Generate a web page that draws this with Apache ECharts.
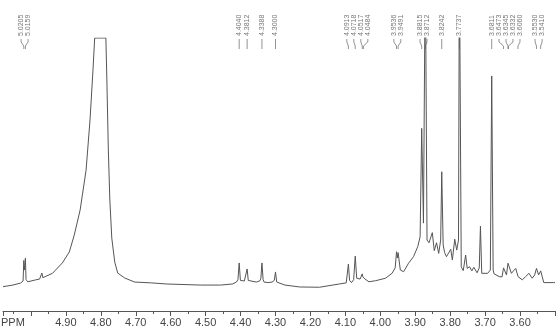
<!DOCTYPE html>
<html>
<head>
    <meta charset="UTF-8">
    <title>1H NMR</title>
    <script src="https://cdn.jsdelivr.net/npm/echarts/dist/echarts.min.js"></script>
    <style>
        html, body { margin: 0; padding: 0; background: #fff; }
        #chart { width: 558px; height: 331px; }
    </style>
</head>
<body>
    <div id="chart"></div>
    <script>
        // chemical shift (ppm) and intensity
        var shifts = [
            5.080, 5.052, 5.030, 5.0225, 5.0205, 5.0185, 5.0159, 5.0140, 5.0090, 4.9866,
            4.9752, 4.9710, 4.9687, 4.9660, 4.9620, 4.9384, 4.9101, 4.8903, 4.8761, 4.8592,
            4.8422, 4.8309, 4.8224, 4.8176, 4.7855, 4.7827, 4.7785, 4.7742, 4.7686, 4.7601,
            4.7516, 4.7318, 4.7034, 4.6553, 4.6128, 4.5138, 4.4571, 4.4232, 4.4118, 4.4075,
            4.4040, 4.4005, 4.3977, 4.3892, 4.3845, 4.3812, 4.3780, 4.3750, 4.3552, 4.3453,
            4.3420, 4.3388, 4.3355, 4.3326, 4.3212, 4.3099, 4.3035, 4.3000, 4.2965, 4.2929,
            4.2731, 4.2306, 4.1740, 4.1174, 4.0976, 4.0945, 4.0913, 4.0880, 4.0825, 4.0763,
            4.0718, 4.0675, 4.0627, 4.0579, 4.0517, 4.0500, 4.0484, 4.0438, 4.0325, 4.0135,
            3.9852, 3.9665, 3.9574, 3.9536, 3.9512, 3.9491, 3.9427, 3.9333, 3.9192, 3.9050,
            3.8928, 3.8861, 3.8815, 3.8765, 3.8712, 3.8663, 3.8606, 3.8512, 3.8456, 3.8391,
            3.8329, 3.8272, 3.8242, 3.8201, 3.8159, 3.8107, 3.7983, 3.7938, 3.7870, 3.7813,
            3.7762, 3.7737, 3.7683, 3.7626, 3.7558, 3.7513, 3.7445, 3.7380, 3.7323, 3.7230,
            3.7168, 3.7134, 3.7097, 3.6927, 3.6851, 3.6811, 3.6771, 3.6743, 3.6596, 3.6517,
            3.6473, 3.6389, 3.6345, 3.6332, 3.6247, 3.6190, 3.6125, 3.6058, 3.5936, 3.5842,
            3.5746, 3.5653, 3.5582, 3.5530, 3.5469, 3.5410, 3.5322, 3.5038, 3.5000
        ];
        var intensity = [
            8.9, 9.5, 10.2, 11.0, 18.5, 15.0, 19.4, 11.5, 10.7, 11.4,
            11.7, 12.2, 13.9, 12.2, 12.3, 13.8, 17.6, 21.6, 27.8, 37.0,
            51.6, 70.0, 88.3, 100, 100, 84.6, 59.0, 40.7, 26.7, 17.9,
            13.9, 12.1, 10.6, 10.3, 9.9, 9.5, 9.5, 9.9, 10.6, 11.5,
            17.6, 11.2, 10.6, 11.0, 11.6, 15.4, 11.2, 10.6, 10.6, 11.0,
            11.8, 17.6, 11.5, 10.6, 10.4, 10.6, 11.2, 14.3, 10.6, 9.9,
            9.5, 8.8, 8.7, 9.9, 10.3, 11.0, 17.2, 11.2, 10.4, 11.5,
            20.1, 12.0, 11.4, 11.7, 13.6, 12.5, 13.2, 11.7, 10.7, 11.1,
            12.0, 13.8, 15.8, 21.7, 19.4, 21.4, 15.0, 14.4, 17.5, 19.9,
            23.6, 27.2, 66.9, 32.2, 130, 26.0, 25.0, 28.7, 22.1, 25.0,
            21.1, 26.0, 51.0, 24.2, 21.4, 19.9, 22.6, 18.7, 26.3, 22.3,
            26.0, 130, 16.2, 14.8, 20.5, 15.6, 16.2, 14.7, 16.0, 14.0,
            15.8, 31.1, 13.8, 13.8, 15.0, 86.1, 15.0, 13.6, 12.6, 12.5,
            15.8, 13.2, 17.5, 17.0, 13.8, 14.7, 15.6, 12.6, 11.4, 12.6,
            13.8, 12.0, 13.2, 15.6, 13.2, 14.7, 10.4, 10.4, 10.4
        ];
        // picked peaks shown at the top
        var peakLabels = [
            '5.0205', '5.0159', '4.4040', '4.3812', '4.3388', '4.3000',
            '4.0913', '4.0718', '4.0517', '4.0484', '3.9536', '3.9491',
            '3.8815', '3.8712', '3.8242', '3.7737', '3.6811', '3.6473',
            '3.6345', '3.6332', '3.6060', '3.5530', '3.5410'
        ];

        var chart = echarts.init(document.getElementById('chart'));

        var spectrum = shifts.map(function (s, i) { return [s, intensity[i]]; });

        var option = {
            animation: false,
            grid: { left: 0, right: 0, top: 38, bottom: 20 },
            xAxis: {
                type: 'value',
                inverse: true,
                min: 3.5,
                max: 5.08,
                interval: 0.1,
                axisLine: { lineStyle: { color: '#555', width: 1 } },
                axisTick: { length: 5, lineStyle: { color: '#555' } },
                minorTick: { show: true, splitNumber: 2, length: 3, lineStyle: { color: '#555' } },
                splitLine: { show: false },
                minorSplitLine: { show: false },
                axisLabel: {
                    margin: 6,
                    color: '#444',
                    fontSize: 11,
                    fontFamily: 'Liberation Sans',
                    formatter: function (v) {
                        if (v < 3.55 || v > 4.95) return '';
                        return v.toFixed(2);
                    }
                }
            },
            yAxis: { type: 'value', min: 0, max: 100, show: false },
            series: [{
                type: 'line',
                data: spectrum,
                symbol: 'none',
                clip: true,
                lineStyle: { color: '#555', width: 1 }
            }]
        };

        chart.setOption(option);

        // spread the peak labels so they don't overlap, then draw them with connectors
        var gap = 7;
        var px = peakLabels.map(function (t) {
            return chart.convertToPixel({ xAxisIndex: 0 }, parseFloat(t));
        });
        var clusters = px.map(function (x, i) { return { from: i, to: i, center: x }; });
        var merged = true;
        while (merged) {
            merged = false;
            for (var i = 0; i < clusters.length - 1; i++) {
                var a = clusters[i], b = clusters[i + 1];
                var aRight = a.center + (a.to - a.from) * gap / 2;
                var bLeft = b.center - (b.to - b.from) * gap / 2;
                if (bLeft - aRight < gap) {
                    var sum = 0;
                    for (var k = a.from; k <= b.to; k++) sum += px[k];
                    clusters.splice(i, 2, { from: a.from, to: b.to, center: sum / (b.to - a.from + 1) });
                    merged = true;
                    break;
                }
            }
        }
        var lx = [];
        clusters.forEach(function (c) {
            var n = c.to - c.from + 1;
            for (var k = 0; k < n; k++) lx[c.from + k] = c.center - (n - 1) * gap / 2 + k * gap;
        });

        var elements = [];
        peakLabels.forEach(function (t, i) {
            elements.push({
                type: 'text',
                x: lx[i],
                y: 36,
                rotation: Math.PI / 2,
                style: {
                    text: t,
                    font: '7px "Liberation Sans"',
                    fill: '#777',
                    align: 'left',
                    verticalAlign: 'middle',
                    textAlign: 'left',
                    textVerticalAlign: 'middle'
                }
            });
            elements.push({
                type: 'polyline',
                shape: { points: [[lx[i], 39], [lx[i], 42], [px[i], 46], [px[i], 49]] },
                style: { stroke: '#777', lineWidth: 0.8, fill: null }
            });
        });
        elements.push({
            type: 'text',
            x: 1,
            y: 323,
            style: {
                text: 'PPM',
                font: '11px "Liberation Sans"',
                fill: '#444',
                align: 'left',
                verticalAlign: 'middle',
                textAlign: 'left',
                textVerticalAlign: 'middle'
            }
        });

        chart.setOption({ graphic: { elements: elements } });
    </script>
</body>
</html>
